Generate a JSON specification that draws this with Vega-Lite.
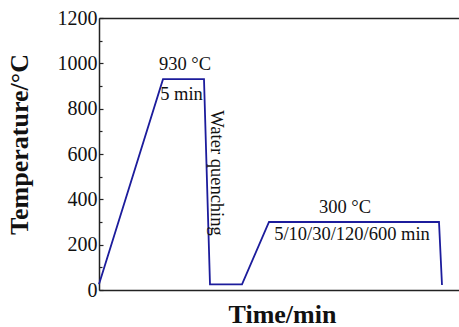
{
  "$schema": "https://vega.github.io/schema/vega-lite/v6.json",
  "width": 360,
  "height": 272,
  "autosize": {"type": "none"},
  "padding": {"left": 99, "top": 18, "right": 0, "bottom": 37},
  "background": "#ffffff",
  "config": {
    "view": {"stroke": null},
    "font": "Liberation Serif",
    "axis": {"domainColor": "#222222", "domainWidth": 1.5, "tickColor": "#222222", "tickWidth": 1.2, "labelColor": "#111111", "titleColor": "#111111", "labelFont": "Liberation Serif", "titleFont": "Liberation Serif", "grid": false}
  },
  "datasets": {
    "profile": [
      {"i": 0, "t": 0, "T": 25},
      {"i": 1, "t": 64, "T": 930},
      {"i": 2, "t": 105, "T": 930},
      {"i": 3, "t": 111, "T": 25},
      {"i": 4, "t": 143, "T": 25},
      {"i": 5, "t": 170, "T": 300},
      {"i": 6, "t": 340, "T": 300},
      {"i": 7, "t": 343, "T": 22}
    ],
    "labels": [
      {"t": 86, "T": 971, "text": "930 °C"},
      {"t": 82.5, "T": 838, "text": "5 min"},
      {"t": 246, "T": 340, "text": "300 °C"},
      {"t": 253, "T": 221, "text": "5/10/30/120/600 min"}
    ],
    "rot": [
      {"t": 118, "T": 516, "text": "Water quenching"}
    ]
  },
  "resolve": {"axis": {"x": "independent", "y": "independent"}},
  "layer": [
    {
      "data": {"name": "profile"},
      "mark": {"type": "line", "color": "#1c1c9c", "strokeWidth": 1.8, "strokeJoin": "miter"},
      "encoding": {
        "x": {"field": "t", "type": "quantitative", "scale": {"domain": [0, 360], "nice": false, "zero": false},
          "axis": {"orient": "bottom", "title": "Time/min", "labels": false, "ticks": false, "titleFont": "Liberation Serif", "titleFontSize": 26, "titleFontWeight": "bold", "titleX": 183, "titleY": 32, "titleBaseline": "alphabetic", "titleAlign": "center"}},
        "y": {"field": "T", "type": "quantitative", "scale": {"domain": [0, 1200], "nice": false},
          "axis": {"orient": "left", "values": [0, 200, 400, 600, 800, 1000, 1200], "format": "d", "tickSize": -4, "labelFont": "Liberation Serif", "labelFontSize": 20, "labelPadding": 6, "title": "Temperature/°C", "titleFont": "Liberation Serif", "titleFontSize": 26, "titleFontWeight": "bold", "titleAngle": -90, "titleX": -72, "titleY": 126, "titleBaseline": "alphabetic", "titleAlign": "center"}},
        "order": {"field": "i", "type": "quantitative"}
      }
    },
    {
      "data": {"name": "labels"},
      "mark": {"type": "text", "fontSize": 18.5, "align": "center", "baseline": "alphabetic", "color": "#111111", "font": "Liberation Serif"},
      "encoding": {
        "x": {"field": "t", "type": "quantitative", "axis": {"orient": "top", "labels": false, "ticks": false, "title": null}},
        "y": {"field": "T", "type": "quantitative", "axis": {"orient": "left", "values": [100, 300, 500, 700, 900, 1100], "labels": false, "domain": false, "tickSize": -3, "title": null}},
        "text": {"field": "text"}
      }
    },
    {
      "data": {"name": "rot"},
      "mark": {"type": "text", "fontSize": 18.5, "align": "center", "baseline": "middle", "angle": 90, "color": "#111111", "font": "Liberation Serif"},
      "encoding": {
        "x": {"field": "t", "type": "quantitative", "axis": null},
        "y": {"field": "T", "type": "quantitative", "axis": null},
        "text": {"field": "text"}
      }
    }
  ]
}
